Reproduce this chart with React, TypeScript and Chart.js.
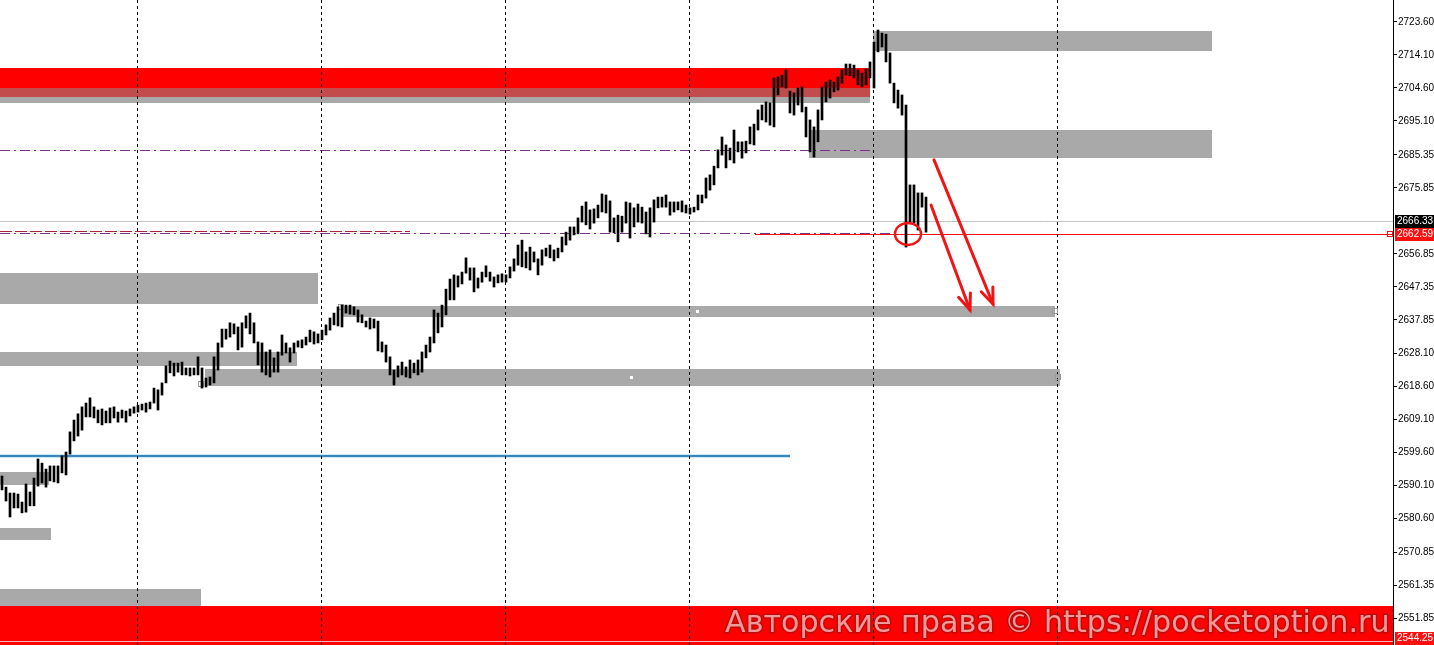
import React, { useEffect, useRef } from "react";
import { Chart, registerables } from "chart.js";

Chart.register(...registerables);

// ---- price bars (high / low per bar) ----
const highs = [
  2592.9, 2589.7, 2588.0, 2588.0, 2587.7, 2585.4, 2590.6, 2588.3, 2592.3, 2597.8,
  2596.6, 2594.9, 2595.8, 2595.8, 2595.8, 2598.7, 2599.8, 2605.6, 2609.0, 2610.8,
  2612.8, 2613.9, 2615.4, 2612.8, 2611.9, 2612.2, 2611.6, 2612.5, 2612.8, 2611.3,
  2611.9, 2611.6, 2612.2, 2612.8, 2613.3, 2613.6, 2613.9, 2614.2, 2618.2, 2617.7,
  2619.7, 2624.6, 2626.0, 2625.4, 2625.4, 2625.7, 2624.0, 2624.0, 2624.0, 2627.2,
  2624.0, 2621.1, 2621.4, 2627.2, 2631.2, 2635.2, 2635.2, 2637.0, 2636.7, 2635.8,
  2637.0, 2639.0, 2639.8, 2637.0, 2631.5, 2631.2, 2628.6, 2629.2, 2626.9, 2628.6,
  2633.5, 2631.2, 2629.8, 2631.2, 2631.8, 2632.1, 2632.9, 2634.9, 2634.4, 2633.8,
  2634.9, 2636.4, 2638.4, 2639.8, 2641.6, 2642.1, 2642.1, 2642.1, 2641.6, 2640.7,
  2639.3, 2637.5, 2638.4, 2638.1, 2637.5, 2631.5, 2630.6, 2627.2, 2623.4, 2624.6,
  2625.7, 2624.3, 2626.3, 2625.4, 2626.3, 2628.6, 2630.6, 2632.9, 2640.7, 2639.8,
  2642.1, 2646.7, 2649.6, 2650.8, 2650.5, 2651.6, 2655.7, 2652.8, 2652.8, 2649.9,
  2651.6, 2653.4, 2651.6, 2650.2, 2650.8, 2651.1, 2650.8, 2653.1, 2655.4, 2659.4,
  2660.8, 2657.4, 2658.8, 2657.4, 2655.4, 2658.0, 2658.5, 2659.4, 2658.0, 2658.5,
  2661.7, 2663.1, 2664.6, 2664.6, 2667.2, 2670.6, 2671.8, 2669.5, 2669.8, 2670.9,
  2674.1, 2673.8, 2672.1, 2667.2, 2668.0, 2667.7, 2671.8, 2671.5, 2670.1, 2671.2,
  2670.3, 2668.9, 2670.1, 2672.4, 2673.2, 2673.2, 2673.8, 2671.8, 2671.8, 2671.8,
  2672.1, 2670.9, 2670.1, 2670.3, 2673.8, 2673.8, 2678.7, 2679.6, 2682.1, 2686.8,
  2690.5, 2688.2, 2687.3, 2692.5, 2689.1, 2689.1, 2689.3, 2693.4, 2694.2, 2698.3,
  2699.7, 2700.6, 2700.3, 2707.5, 2707.8, 2708.3, 2709.8, 2703.7, 2703.2, 2704.6,
  2704.9, 2699.1, 2695.4, 2693.4, 2698.3, 2704.9, 2706.3, 2706.9, 2706.3, 2707.8,
  2709.8, 2711.5, 2711.5, 2711.2, 2709.8, 2708.9, 2710.1, 2712.1, 2717.8, 2721.3,
  2720.4, 2720.1, 2714.7, 2706.0, 2704.0, 2702.6, 2699.7, 2676.7, 2676.7, 2674.4,
  2674.4, 2673.2,
];
const lows = [
  2588.9, 2585.7, 2581.1, 2583.7, 2583.7, 2582.3, 2582.5, 2584.3, 2584.3, 2590.0,
  2590.9, 2589.7, 2591.5, 2591.2, 2590.9, 2593.8, 2593.2, 2599.2, 2603.0, 2604.4,
  2606.1, 2609.9, 2609.9, 2609.6, 2608.2, 2607.6, 2608.2, 2608.2, 2609.6, 2608.4,
  2609.6, 2608.4, 2610.2, 2611.0, 2611.3, 2611.9, 2611.3, 2612.2, 2613.9, 2611.9,
  2616.2, 2619.7, 2622.6, 2621.7, 2622.8, 2622.0, 2622.0, 2621.7, 2622.0, 2622.0,
  2618.2, 2618.5, 2619.1, 2619.7, 2623.4, 2630.0, 2632.3, 2632.9, 2633.8, 2629.2,
  2630.0, 2635.5, 2633.8, 2631.2, 2624.9, 2622.8, 2622.0, 2621.4, 2622.8, 2622.8,
  2627.7, 2628.3, 2625.7, 2628.3, 2630.0, 2629.8, 2630.6, 2631.5, 2630.9, 2631.2,
  2632.1, 2633.5, 2634.9, 2636.4, 2636.1, 2635.8, 2639.8, 2639.5, 2639.3, 2637.2,
  2637.0, 2635.8, 2635.2, 2635.5, 2628.9, 2628.6, 2625.7, 2622.0, 2619.1, 2621.4,
  2622.0, 2621.4, 2621.1, 2622.6, 2622.0, 2622.8, 2626.9, 2628.6, 2631.2, 2634.1,
  2635.8, 2639.3, 2643.6, 2643.6, 2647.3, 2648.2, 2651.3, 2649.3, 2645.9, 2647.0,
  2648.7, 2650.2, 2649.0, 2647.3, 2648.5, 2648.7, 2648.7, 2649.9, 2651.9, 2653.6,
  2653.1, 2652.8, 2652.2, 2654.5, 2650.8, 2653.6, 2656.2, 2655.7, 2654.8, 2655.7,
  2657.4, 2659.4, 2660.8, 2662.3, 2662.6, 2666.0, 2665.2, 2664.0, 2665.7, 2667.2,
  2668.9, 2668.6, 2663.1, 2662.9, 2660.3, 2663.1, 2665.7, 2661.4, 2664.6, 2666.0,
  2665.7, 2662.6, 2661.7, 2666.0, 2670.1, 2670.3, 2670.3, 2668.0, 2668.9, 2669.5,
  2668.9, 2668.6, 2668.3, 2668.9, 2669.5, 2671.5, 2672.9, 2675.2, 2676.7, 2681.6,
  2685.3, 2681.6, 2683.9, 2683.0, 2686.2, 2684.4, 2685.9, 2688.5, 2688.2, 2692.5,
  2695.4, 2694.8, 2693.9, 2693.4, 2702.6, 2704.9, 2704.6, 2697.4, 2696.8, 2699.7,
  2697.7, 2690.5, 2686.2, 2684.7, 2689.1, 2695.4, 2700.6, 2701.7, 2703.5, 2704.0,
  2706.0, 2708.3, 2708.1, 2707.5, 2705.5, 2704.9, 2705.5, 2707.5, 2704.6, 2715.0,
  2716.4, 2712.1, 2706.0, 2700.3, 2698.8, 2696.8, 2658.8, 2666.0, 2665.7, 2663.7,
  2670.3, 2663.1,
];

// ---- axis ----
const priceTicks = [
  2723.6, 2714.1, 2704.6, 2695.1, 2685.35, 2675.85, 2656.85, 2647.35, 2637.85,
  2628.1, 2618.6, 2609.1, 2599.6, 2590.1, 2580.6, 2570.85, 2561.35, 2551.85,
];
const priceMin = 2544.25;
const priceMax = 2729.93;
const slotMax = 348.25;
const daySeparators = [34.25, 80.25, 126.25, 172.25, 218.25, 264.25];

// ---- zones: [startSlot, endSlot, lowPrice, highPrice] ----
const grayZones = [
  [218.25, 303, 2715.3, 2721.0],
  [202.25, 303, 2684.4, 2692.5],
  [0, 217.5, 2700.3, 2702.0],
  [0, 79.5, 2642.4, 2651.3],
  [85.25, 263.75, 2638.7, 2641.8],
  [0, 74.25, 2624.6, 2628.6],
  [51.25, 265, 2618.8, 2623.7],
  [0, 12.25, 2590.3, 2594.1],
  [0, 12.75, 2574.5, 2577.9],
  [0, 50.25, 2555.5, 2560.4],
];
const redZones = [
  [0, 217.5, 2704.6, 2710.4],
  [0, slotMax, 2544.25, 2555.5],
];
const mixedZones = [[0, 217.5, 2702.0, 2704.6]];

// ---- levels ----
const blueLevel = [0, 197.5, 2598.8];
const purpleLevels = [
  [0, 217.5, 2686.75],
  [0, 225, 2662.85],
];
const darkRedDash = [0, 102.5, 2663.3];
const bidPrice = 2666.33;
const redLevel = [188.75, slotMax, 2662.59];
const lowestPrice = 2544.25;

// ---- annotations ----
const arrows = [
  [232.75, 2670.9, 242.5, 2640.7],
  [233.5, 2683.9, 248.25, 2642.4],
];
const circleAt = [227, 2662.6];
const whiteDots = [
  [174.25, 2640.3],
  [157.75, 2621.3],
];
const outlineSquares = [
  [85.25, 2641.6],
  [50.25, 2619.4],
  [264.5, 2621.3],
  [263.75, 2640.3],
];
const watermark = "Авторские права © https://pocketoption.ru";

const overlay = {
  id: "overlay",
  beforeDatasetsDraw(chart: any) {
    const { ctx, chartArea, scales } = chart;
    const xs = scales.x;
    const ys = scales.y;
    const X = (t: number) => Math.round(xs.getPixelForValue(t));
    const Y = (p: number) => Math.round(ys.getPixelForValue(p));
    ctx.save();
    ctx.beginPath();
    ctx.rect(chartArea.left, chartArea.top, chartArea.width, chartArea.height);
    ctx.clip();
    const fillZone = (z: number[], c: string) => {
      const x0 = X(z[0]);
      const x1 = X(z[1]);
      const y0 = Y(z[3]);
      const y1 = Y(z[2]);
      ctx.fillStyle = c;
      ctx.fillRect(x0, y0, x1 - x0, y1 - y0);
    };
    grayZones.forEach((z) => fillZone(z, "#a9a9a9"));
    redZones.forEach((z) => fillZone(z, "#ff0000"));
    mixedZones.forEach((z) => fillZone(z, "#c24b4b"));

    // thin pale line inside the bottom red band
    ctx.fillStyle = "#f6b9b9";
    ctx.fillRect(X(0), Y(lowestPrice + 1.1), X(slotMax), 1);

    // levels
    const hline = (t0: number, t1: number, p: number, color: string, w: number, dash: number[]) => {
      ctx.beginPath();
      ctx.setLineDash(dash);
      ctx.strokeStyle = color;
      ctx.lineWidth = w;
      const y = Y(p) + (w % 2 ? 0.5 : 0);
      ctx.moveTo(X(t0), y);
      ctx.lineTo(X(t1), y);
      ctx.stroke();
    };
    hline(0, slotMax, bidPrice, "#c4c4c4", 1, []);
    hline(redLevel[0], redLevel[1], redLevel[2], "#ff1010", 1, []);
    hline(darkRedDash[0], darkRedDash[1], darkRedDash[2], "#b0203a", 1, [12, 3]);
    purpleLevels.forEach((l) => hline(l[0], l[1], l[2], "#7d2f8c", 1, [10, 4, 2, 4]));
    hline(blueLevel[0], blueLevel[1], blueLevel[2], "rgba(160,220,240,0.6)", 4, []);
    hline(blueLevel[0], blueLevel[1], blueLevel[2], "#3a86b8", 2, []);

    // day separators
    ctx.setLineDash([3, 3]);
    ctx.strokeStyle = "#000";
    ctx.lineWidth = 1;
    daySeparators.forEach((t) => {
      const x = X(t) + 0.5;
      ctx.beginPath();
      ctx.moveTo(x, chartArea.top);
      ctx.lineTo(x, chartArea.bottom);
      ctx.stroke();
    });
    ctx.setLineDash([]);

    // small object anchors
    ctx.fillStyle = "#fff";
    whiteDots.forEach((d) => ctx.fillRect(X(d[0]) - 1, Y(d[1]) - 1, 3, 3));
    ctx.strokeStyle = "#9a9a9a";
    outlineSquares.forEach((d) => ctx.strokeRect(X(d[0]) - 2.5, Y(d[1]) - 2.5, 5, 5));
    ctx.restore();
  },
  afterDraw(chart: any) {
    const { ctx, chartArea, scales, width, height } = chart;
    const xs = scales.x;
    const ys = scales.y;
    const X = (t: number) => xs.getPixelForValue(t);
    const Y = (p: number) => ys.getPixelForValue(p);
    ctx.save();

    // circle
    ctx.strokeStyle = "#f01414";
    ctx.lineWidth = 2.5;
    ctx.beginPath();
    ctx.ellipse(X(circleAt[0]), Y(circleAt[1]), 13, 11, 0, 0, Math.PI * 2);
    ctx.stroke();

    // arrows
    ctx.lineWidth = 3;
    ctx.lineCap = "round";
    arrows.forEach((a) => {
      const x0 = X(a[0]);
      const y0 = Y(a[1]);
      const x1 = X(a[2]);
      const y1 = Y(a[3]);
      const ang = Math.atan2(y1 - y0, x1 - x0);
      ctx.beginPath();
      ctx.moveTo(x0, y0);
      ctx.lineTo(x1, y1);
      ctx.stroke();
      const L = 17;
      const w = 0.38;
      ctx.beginPath();
      ctx.moveTo(x1 - L * Math.cos(ang - w), y1 - L * Math.sin(ang - w));
      ctx.lineTo(x1, y1);
      ctx.lineTo(x1 - L * Math.cos(ang + w), y1 - L * Math.sin(ang + w));
      ctx.stroke();
    });

    // red end square on the level
    ctx.lineWidth = 1;
    ctx.strokeStyle = "#ff1010";
    ctx.strokeRect(Math.round(chartArea.right) - 5.5, Math.round(Y(redLevel[2])) - 2.5, 5, 5);

    // price boxes on the axis
    const box = (p: number, bg: string) => {
      const y = Math.min(Math.round(Y(p)), height - 7);
      const x0 = Math.round(chartArea.right) + 2;
      ctx.fillStyle = bg;
      ctx.fillRect(x0, y - 6, width - x0, 13);
      ctx.fillStyle = "#fff";
      ctx.font = '10px "Liberation Sans"';
      ctx.textBaseline = "middle";
      ctx.textAlign = "left";
      ctx.fillText(p.toFixed(2), x0 + 2, y + 0.5);
    };
    box(bidPrice, "#000");
    box(redLevel[2], "#ff1010");
    box(lowestPrice, "#ff1010");

    // watermark
    let size = 27;
    ctx.font = `${size}px "DejaVu Sans"`;
    const w0 = ctx.measureText(watermark).width;
    size = (size * 665) / w0;
    ctx.font = `${size}px "DejaVu Sans"`;
    ctx.textAlign = "left";
    ctx.textBaseline = "alphabetic";
    ctx.lineJoin = "round";
    ctx.lineWidth = 3;
    ctx.strokeStyle = "rgba(140,20,20,0.55)";
    ctx.strokeText(watermark, 725, 632);
    ctx.fillStyle = "rgba(245,170,170,0.9)";
    ctx.fillText(watermark, 725, 632);
    ctx.restore();
  },
};

export default function App() {
  const canvasRef = useRef<HTMLCanvasElement | null>(null);

  useEffect(() => {
    const canvas = canvasRef.current;
    if (!canvas) return;
    const data = highs.map((h, i) => ({ x: i + 0.5, y: [lows[i], h] }));
    const chart = new Chart(canvas, {
      type: "bar",
      data: {
        datasets: [
          {
            data: data as any,
            backgroundColor: "#000",
            borderWidth: 0,
            barThickness: 2,
          },
        ],
      },
      options: {
        animation: false,
        responsive: false,
        devicePixelRatio: 1,
        layout: { padding: 0 },
        plugins: { legend: { display: false }, tooltip: { enabled: false } },
        scales: {
          x: {
            type: "linear",
            min: 0,
            max: slotMax,
            offset: false,
            display: false,
            afterFit: (s: any) => {
              s.paddingLeft = 0;
              s.paddingRight = 0;
            },
          },
          y: {
            position: "right",
            min: priceMin,
            max: priceMax,
            afterBuildTicks: (s: any) => {
              s.ticks = priceTicks.map((v) => ({ value: v }));
            },
            afterFit: (s: any) => {
              s.width = 41;
              s.paddingTop = 0;
              s.paddingBottom = 0;
            },
            grid: {
              drawOnChartArea: false,
              drawTicks: true,
              tickLength: 4,
              color: "#000",
            },
            border: { display: true, color: "#000", width: 1 },
            ticks: {
              autoSkip: false,
              padding: 1,
              color: "#000",
              font: { family: "Liberation Sans", size: 10 },
              callback: (v: any) => Number(v).toFixed(2),
            },
          },
        },
      },
      plugins: [overlay],
    });
    return () => chart.destroy();
  }, []);

  return (
    <div style={{ position: "fixed", left: 0, top: 0, width: 1434, height: 645, background: "#fff" }}>
      <canvas ref={canvasRef} width={1434} height={645} style={{ display: "block" }} />
    </div>
  );
}
